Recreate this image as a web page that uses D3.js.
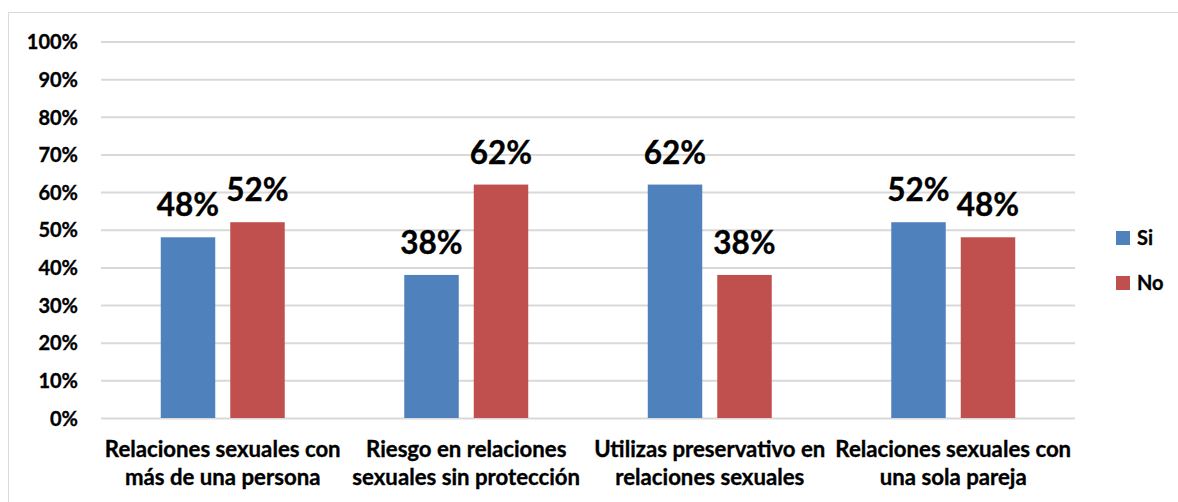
<!DOCTYPE html>
<html><head><meta charset="utf-8">
<script src="https://cdn.jsdelivr.net/npm/d3@7"></script>
<style>body{margin:0;background:#fff}svg{display:block}text{font-family:Lato,"Open Sans",sans-serif;font-weight:bold;fill:#000;stroke:#000;stroke-width:0.35px}</style>
</head><body>
<svg id="c" width="1178" height="502"></svg>
<script>
const categories = [["Relaciones sexuales con","más de una persona"],["Riesgo en relaciones","sexuales sin protección"],["Utilizas preservativo en","relaciones sexuales"],["Relaciones sexuales con","una sola pareja"]];
const seriesNames = ["Si","No"];
const siValues = [48,38,62,52];
const noValues = [52,62,38,48];
const yTicks = [0,10,20,30,40,50,60,70,80,90,100];
const colors = ["#4F81BD","#C0504D"];

const svg = d3.select("#c");
svg.append("path").attr("d","M8.5,502 V12.5 H1178").attr("fill","none").attr("stroke","#D9D9D9").attr("stroke-width",1);

const pLeft=101, pRight=1075, pTop=41.5, pBottom=418;
const x0 = d3.scaleBand().domain(d3.range(categories.length)).range([pLeft,pRight]).paddingInner(0).paddingOuter(0);
const x1 = d3.scaleBand().domain(seriesNames).range([0,x0.bandwidth()]).paddingInner(0.216).paddingOuter(0.86);
const y = d3.scaleLinear().domain([0,100]).range([pBottom,pTop]);

const yAxis = svg.append("g").attr("transform",`translate(${pLeft},0)`)
  .call(d3.axisLeft(y).tickValues(yTicks).tickFormat(d=>d+"%").tickSize(-(pRight-pLeft)).tickPadding(23));
yAxis.select(".domain").remove();
yAxis.selectAll("line").attr("stroke","#D9D9D9").attr("stroke-width",2);
yAxis.selectAll("text").attr("font-size",null).attr("font-family",null).style("font-size","20px").attr("fill","#000").attr("dy","0.36em");

const data = categories.map((c,i)=>({i, vals:[siValues[i],noValues[i]]}));
const g = svg.selectAll("g.cat").data(data).join("g").attr("class","cat").attr("transform",d=>`translate(${x0(d.i)},0)`);
g.selectAll("rect").data(d=>d.vals.map((v,k)=>({v,k}))).join("rect")
  .attr("x",d=>x1(seriesNames[d.k])).attr("width",x1.bandwidth())
  .attr("y",d=>y(d.v)).attr("height",d=>y(0)-y(d.v)).attr("fill",d=>colors[d.k]);
g.selectAll("text.val").data(d=>d.vals.map((v,k)=>({v,k}))).join("text").attr("class","val")
  .attr("x",d=>x1(seriesNames[d.k])+x1.bandwidth()/2).attr("y",d=>y(d.v)-21)
  .attr("text-anchor","middle").style("font-size","31.5px").text(d=>d.v+"%");

svg.selectAll("text.cl").data(categories).join("text").attr("class","cl")
  .attr("x",(d,i)=>x0(i)+x0.bandwidth()/2).attr("text-anchor","middle").style("font-size","22.2px")
  .selectAll("tspan").data(d=>d).join("tspan")
  .attr("x",function(){return this.parentNode.getAttribute("x");})
  .attr("y",(d,j)=>457+j*28).text(d=>d);

const leg = svg.selectAll("g.leg").data(seriesNames).join("g").attr("class","leg")
  .attr("transform",(d,i)=>`translate(1116,${231+i*45})`);
leg.append("rect").attr("width",14).attr("height",14).attr("fill",(d,i)=>colors[i]);
leg.append("text").attr("x",21).attr("y",14).style("font-size","20px").text(d=>d);
</script>
</body></html>
